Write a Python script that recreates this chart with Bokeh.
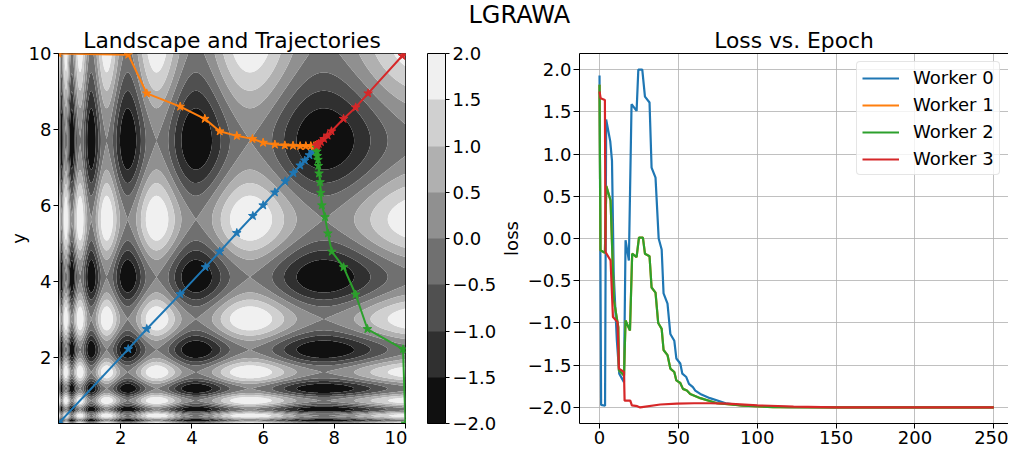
import numpy as np
from bokeh.plotting import figure
from bokeh.layouts import row
from bokeh.models import (
    Range1d,
    FixedTicker,
    Legend,
    LegendItem,
    Title,
    LinearAxis,
    ColorBar,
    LinearColorMapper,
    CustomJSTickFormatter,
)
from bokeh.embed import file_html
from bokeh.resources import INLINE

FONT = "DejaVu Sans"
TICK_SIZE = "18px"

# landscape: z = -(sin(10 ln x) + sin(10 ln y)) on [0.25, 10]^2
domain = (0.25, 10.0)
contour_levels = [-2.0, -1.5, -1.0, -0.5, 0.0, 0.5, 1.0, 1.5, 2.0]
band_colors = ["#101010", "#303030", "#505050", "#707070",
               "#909090", "#b0b0b0", "#d0d0d0", "#f0f0f0"]

worker_names = ["Worker 0", "Worker 1", "Worker 2", "Worker 3"]
worker_colors = ["#1f77b4", "#ff7f0e", "#2ca02c", "#d62728"]

# trajectories
w0_x = [0.25, 2.21, 2.73, 3.67, 4.38, 4.78, 5.26, 5.71, 6.00, 6.33, 6.62, 6.85, 7.04, 7.17, 7.30, 7.38, 7.43, 7.47]
w0_y = [0.25, 2.21, 2.74, 3.66, 4.37, 4.78, 5.27, 5.72, 6.00, 6.34, 6.63, 6.85, 7.05, 7.18, 7.32, 7.41, 7.47, 7.52]
w1_x = [0.25, 2.21, 2.73, 3.67, 4.36, 4.78, 5.26, 5.70, 6.00, 6.33, 6.61, 6.84, 7.04, 7.20, 7.34, 7.43, 7.48]
w1_y = [10.0, 9.97, 8.95, 8.60, 8.28, 7.95, 7.83, 7.75, 7.65, 7.60, 7.58, 7.57, 7.56, 7.56, 7.56, 7.56, 7.57]
w2_x = [10.0, 9.93, 8.93, 8.60, 8.26, 7.93, 7.82, 7.74, 7.65, 7.62, 7.60, 7.57, 7.55, 7.54, 7.52, 7.51, 7.50]
w2_y = [0.25, 2.21, 2.74, 3.65, 4.37, 4.78, 5.26, 5.69, 6.00, 6.33, 6.61, 6.84, 7.04, 7.20, 7.30, 7.42, 7.52]
w3_x = [10.0, 9.91, 8.95, 8.60, 8.26, 7.92, 7.81, 7.71, 7.62, 7.56, 7.52, 7.50]
w3_y = [10.0, 9.94, 8.95, 8.58, 8.28, 7.95, 7.84, 7.75, 7.67, 7.62, 7.59, 7.57]

# loss per epoch (breakpoints)
w0_epoch = [0, 1, 3.5, 4.2, 6.8, 7.9, 9, 10, 11, 12.5, 15.5, 16.5, 18.6, 20.3, 23.5, 24.6, 27.1, 28.8,
            31.7, 33, 35.5, 37.5, 39.4, 40.6, 43.1, 44.9, 47.4, 48.7, 51.2, 52.5, 55, 56.7, 59.2, 60.7,
            63.9, 70, 80, 90, 100, 120, 150, 250]
w0_loss = [1.93, -1.97, -1.98, 1.41, 1.15, 0.92, -0.42, -0.82, -1.21, -1.60, -1.70, -0.02, -0.26, 1.59,
           1.51, 2.0, 2.0, 1.68, 1.61, 0.84, 0.72, 0.0, -0.13, -0.65, -0.77, -1.13, -1.21, -1.42, -1.48,
           -1.60, -1.64, -1.72, -1.76, -1.80, -1.84, -1.89, -1.95, -1.975, -1.985, -1.995, -2.0, -2.0]
w2_epoch = [0, 0.6, 3.4, 4.3, 7.0, 9.1, 11.9, 12.3, 15.5, 16.5, 19.3, 20.7, 23.5, 25.0, 27.5, 28.8,
            31.7, 33.0, 35.5, 37.2, 39.4, 40.6, 43.1, 44.9, 47.4, 48.7, 51.2, 52.9, 55.4, 57.5, 63.9,
            74.5, 91.4, 110, 150, 250]
w2_loss = [1.82, -0.14, -0.17, 0.62, 0.45, -0.73, -1.05, -1.56, -1.62, -0.97, -1.09, -0.18, -0.22, 0.01,
           0.01, -0.18, -0.21, -0.58, -0.64, -1.0, -1.07, -1.32, -1.38, -1.54, -1.58, -1.68, -1.71, -1.78,
           -1.80, -1.84, -1.89, -1.95, -1.98, -1.995, -2.0, -2.0]
# worker 1 mirrors worker 2, its curve lies hidden under the green one
w1_epoch = list(w2_epoch)
w1_loss = list(w2_loss)
w3_epoch = [0, 0.7, 3.4, 3.8, 7.0, 8.5, 11.4, 12.3, 15.5, 15.9, 19.5, 20.5, 23.9, 25.8, 38.5, 49, 60,
            70, 81, 100, 123, 150, 250]
w3_loss = [1.74, 1.66, 1.64, -0.16, -0.26, -0.93, -0.99, -1.54, -1.58, -1.92, -1.92, -1.975, -1.985,
           -2.0, -1.965, -1.955, -1.95, -1.95, -1.955, -1.975, -1.99, -2.0, -2.0]

loss_ticks = [-2.0, -1.5, -1.0, -0.5, 0.0, 0.5, 1.0, 1.5, 2.0]
epoch_ticks = [0, 50, 100, 150, 200, 250]
xy_ticks = [2, 4, 6, 8, 10]
epoch_range = (-12.7, 259.3)
loss_range = (-2.19, 2.19)

H = 450
TOP = 53
BOTTOM = 27
FRAME_H = H - TOP - BOTTOM

minus_fmt = CustomJSTickFormatter(code="return tick.toFixed(1).replace('-', '\\u2212');")


def style_axis(ax, tick_out=5, standoff=2):
    ax.major_label_text_font = FONT
    ax.major_label_text_font_size = TICK_SIZE
    ax.major_label_text_color = "black"
    ax.major_label_text_line_height = 1.0
    ax.axis_label_text_font = FONT
    ax.axis_label_text_font_size = TICK_SIZE
    ax.axis_label_text_font_style = "normal"
    ax.axis_label_text_color = "black"
    ax.axis_label_text_line_height = 1.0
    ax.major_tick_out = tick_out
    ax.major_tick_in = 0
    ax.major_tick_line_color = "black"
    ax.minor_tick_line_color = None
    ax.major_label_standoff = standoff
    ax.axis_line_color = "black"


def make_title(text, size="21.8px", align="center", offset=0, standoff=2):
    return Title(text=text, align=align, offset=offset, standoff=standoff,
                 text_font=FONT, text_font_size=size, text_font_style="normal",
                 text_color="black")


# landscape
grid = np.linspace(domain[0], domain[1], 320)
gx, gy = np.meshgrid(grid, grid)
z = np.clip(-(np.sin(10 * np.log(gx)) + np.sin(10 * np.log(gy))), -2.0, 2.0)

land = figure(width=407, height=H, x_range=Range1d(*domain), y_range=Range1d(*domain),
              min_border_left=58, min_border_right=2, min_border_top=TOP, min_border_bottom=BOTTOM,
              title=make_title("Landscape and Trajectories"),
              toolbar_location=None, output_backend="svg")
land.contour(grid, grid, z, levels=contour_levels, fill_color=band_colors, line_color=None)
for xs, ys, c in [(w0_x, w0_y, worker_colors[0]), (w1_x, w1_y, worker_colors[1]),
                  (w2_x, w2_y, worker_colors[2]), (w3_x, w3_y, worker_colors[3])]:
    land.line(xs, ys, line_color=c, line_width=2)
    land.scatter(xs, ys, marker="star", size=9, fill_color=c, line_color=c)
land.grid.visible = False
land.outline_line_color = "black"
land.outline_line_alpha = 1
land.xaxis.ticker = FixedTicker(ticks=xy_ticks)
land.yaxis.ticker = FixedTicker(ticks=xy_ticks)
land.yaxis.axis_label = "y"
for ax in land.axis:
    style_axis(ax)
land.yaxis.axis_label_standoff = -3

# loss curves (this figure also carries the colour bar and the suptitle in its left/top border)
loss = figure(width=601, height=H, x_range=Range1d(*epoch_range), y_range=Range1d(*loss_range),
              min_border_left=172, min_border_right=0, min_border_top=TOP, min_border_bottom=BOTTOM,
              title=None, toolbar_location=None, output_backend="svg")
loss.outline_line_color = None
renderers = []
for ep, ls, c in [(w0_epoch, w0_loss, worker_colors[0]), (w1_epoch, w1_loss, worker_colors[1]),
                  (w2_epoch, w2_loss, worker_colors[2]), (w3_epoch, w3_loss, worker_colors[3])]:
    renderers.append(loss.line(ep, ls, line_color=c, line_width=2.2))
loss.xaxis.ticker = FixedTicker(ticks=epoch_ticks)
loss.yaxis.ticker = FixedTicker(ticks=loss_ticks)
loss.yaxis.formatter = minus_fmt
loss.yaxis.axis_label = "loss"
for ax in loss.xaxis + loss.yaxis:
    style_axis(ax, tick_out=6, standoff=2)
loss.xaxis.major_tick_out = 5
loss.yaxis.axis_label_standoff = 3
loss.grid.grid_line_color = "#b0b0b0"
loss.grid.grid_line_alpha = 0.8
loss.grid.grid_line_width = 1
# top edge of the frame (the right edge lies outside the picture)
loss.add_layout(LinearAxis(ticker=FixedTicker(ticks=[]), major_tick_out=0, major_tick_in=0,
                           major_label_standoff=0, major_label_text_font_size="0px",
                           axis_line_color="black"), "above")
loss.add_layout(make_title("Loss vs. Epoch"), "above")
# suptitle, stacked above and shifted left so it sits over the centre of the picture
loss.add_layout(make_title("LGRAWA", size="24px", align="left", offset=-111, standoff=-8), "above")

legend = Legend(
    items=[LegendItem(label=n, renderers=[r]) for n, r in zip(worker_names, renderers)],
    location=(277, FRAME_H - 9 - 113),
    label_text_font=FONT, label_text_font_size=TICK_SIZE, label_text_color="black",
    label_text_line_height=1.0,
    glyph_width=37, glyph_height=20, label_standoff=14, spacing=6, padding=5, margin=0,
    border_line_color="#cccccc", border_line_width=1, border_radius=4,
    background_fill_color="white", background_fill_alpha=0.8,
)
loss.add_layout(legend)

mapper = LinearColorMapper(palette=band_colors, low=contour_levels[0], high=contour_levels[-1])
cbar = ColorBar(
    color_mapper=mapper, location=(-152, 0), orientation="vertical",
    width=18, height=FRAME_H, padding=0, margin=0,
    ticker=FixedTicker(ticks=contour_levels), formatter=minus_fmt,
    major_label_text_font=FONT, major_label_text_font_size=TICK_SIZE,
    major_label_text_color="black", label_standoff=3,
    major_tick_out=4, major_tick_in=0, major_tick_line_color="black",
    minor_tick_line_color=None, bar_line_color="black",
    border_line_color=None, background_fill_color=None,
)
loss.add_layout(cbar)

layout = row(land, loss)

open("out.html", "w").write(file_html(layout, INLINE, title="LGRAWA"))
